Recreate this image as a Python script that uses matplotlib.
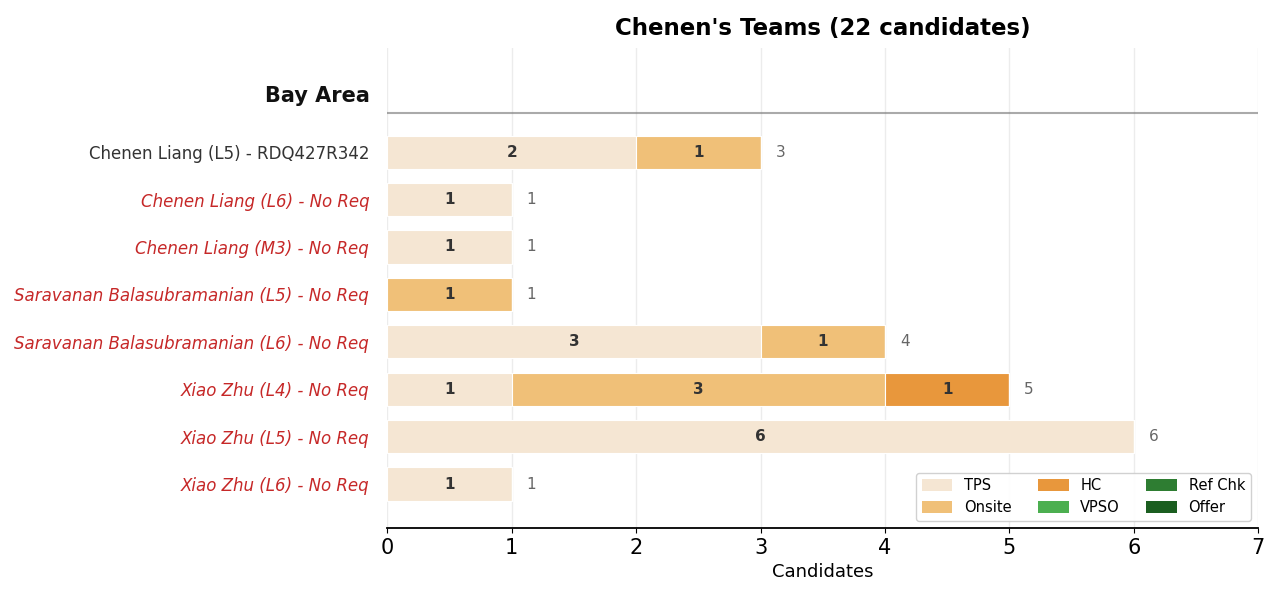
import matplotlib
matplotlib.use('Agg')
import matplotlib.pyplot as plt
import numpy as np
from matplotlib.patches import Patch

# data
recruiters = [
    'Chenen Liang (L5) - RDQ427R342',
    'Chenen Liang (L6) - No Req',
    'Chenen Liang (M3) - No Req',
    'Saravanan Balasubramanian (L5) - No Req',
    'Saravanan Balasubramanian (L6) - No Req',
    'Xiao Zhu (L4) - No Req',
    'Xiao Zhu (L5) - No Req',
    'Xiao Zhu (L6) - No Req',
]
has_req = [True, False, False, False, False, False, False, False]
stages = ['TPS', 'Onsite', 'HC', 'VPSO', 'Ref Chk', 'Offer']
tps = [2, 1, 1, 0, 3, 1, 6, 1]
onsite = [1, 0, 0, 1, 1, 3, 0, 0]
hc = [0, 0, 0, 0, 0, 1, 0, 0]
vpso = [0, 0, 0, 0, 0, 0, 0, 0]
ref_chk = [0, 0, 0, 0, 0, 0, 0, 0]
offer = [0, 0, 0, 0, 0, 0, 0, 0]
colors = ['#f5e6d3', '#f0c078', '#e8973c', '#4caf50', '#2e7d32', '#1b5e20']

series = [tps, onsite, hc, vpso, ref_chk, offer]
totals = np.sum(series, axis=0)

fig, ax = plt.subplots(figsize=(12.8, 6.05), dpi=100)
fig.subplots_adjust(left=0.3025, right=0.983, top=0.921, bottom=0.127)

y = np.arange(len(recruiters))
left = np.zeros(len(recruiters))
for name, vals, c in zip(stages, series, colors):
    vals = np.array(vals)
    ax.barh(y, vals, left=left, height=0.7, color=c, edgecolor='white',
            linewidth=0.8, zorder=2)
    for yi, (l, v) in enumerate(zip(left, vals)):
        if v > 0:
            ax.text(l + v / 2, yi, str(v), ha='center', va='center',
                    fontsize=11, fontweight='bold', color='#333333', zorder=4)
    left += vals

for yi, t in enumerate(totals):
    ax.text(t + 0.12, yi, str(t), ha='left', va='center', fontsize=11,
            color='#666666', zorder=4)

# header row
ax.axhline(-0.82, color='#aaaaaa', linewidth=1.5, zorder=1)
ax.text(-0.14, -1.18, 'Bay Area', ha='right', va='center', fontsize=15,
        fontweight='bold', color='#111111', transform=ax.transData,
        clip_on=False)

ax.set_yticks(y)
ax.set_yticklabels(recruiters, fontsize=12)
for lbl, ok in zip(ax.get_yticklabels(), has_req):
    if ok:
        lbl.set_color('#333333')
    else:
        lbl.set_color('#c62828')
        lbl.set_style('italic')
ax.tick_params(axis='y', length=0, pad=13)

ax.set_xlim(0, 7)
ax.set_ylim(7.93, -2.2)
ax.set_xticks(range(0, 8))
ax.tick_params(axis='x', labelsize=15)
ax.set_xlabel('Candidates', fontsize=13)
ax.set_title("Chenen's Teams (22 candidates)", fontsize=16.5,
             fontweight='bold', pad=9)

ax.grid(axis='x', color='gray', alpha=0.15, linewidth=1, zorder=3)
for s in ['top', 'right', 'left']:
    ax.spines[s].set_visible(False)
ax.spines['bottom'].set_linewidth(1.3)

handles = [Patch(facecolor=c, label=n) for n, c in zip(stages, colors)]
ax.legend(handles=handles, ncol=3, loc='lower right', fontsize=10.5,
          frameon=True, framealpha=0.9, edgecolor='#cccccc',
          columnspacing=1.8, handleheight=0.9, handlelength=2.1,
          labelspacing=0.45)

plt.savefig('out.png', dpi=100)
